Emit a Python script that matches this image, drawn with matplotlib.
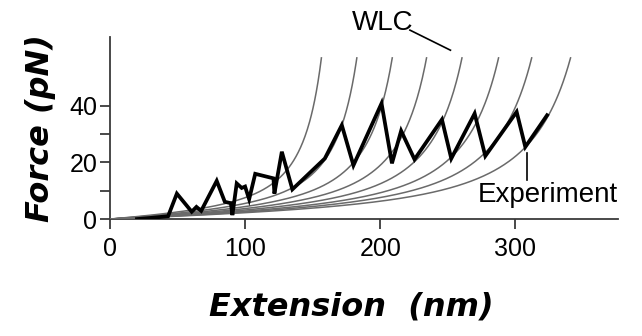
import numpy as np
import matplotlib.pyplot as plt

plt.rcParams['font.family'] = ['Liberation Sans', 'DejaVu Sans']

# === DATA ===
# experimental force-extension trace (nm, pN), read off the picture
ext_nm = [20, 30, 43, 49.5, 60.5, 64, 67.5, 79, 85, 89.5, 90.6, 93.8, 97.5, 100,
          103, 107.5, 121, 121.7, 127.2, 135, 159, 171.6, 180.2, 201, 208.7,
          215.5, 225.4, 245.7, 252.6, 269.9, 277.8, 301, 307.4, 323.5]
force_pN = [0, 0.4, 1, 9, 2.6, 4.3, 2.9, 13.5, 6.1, 5.6, 1.4, 12.6, 11, 11.5,
            7, 16, 14.4, 9, 23.8, 10.5, 21.4, 33.2, 19, 40.9, 19.7,
            31.2, 21.1, 35.2, 21.4, 37.3, 22.3, 37.9, 25.5, 36.7]

# worm-like chain fits: contour lengths (nm) and persistence length (nm)
wlc_contour = [185, 216, 247, 277, 308, 340, 369, 403]
persistence = 0.8
kT = 4.1          # pN nm
f_max = 57.5      # curves are cut here

x_ticks = [0, 100, 200, 300]
y_ticks = [0, 20, 40]
y_minor = [10, 30]


def wlc_force(x, L):
    r = x / L
    return kT / persistence * (0.25 / (1 - r) ** 2 - 0.25 + r)


fig = plt.figure(figsize=(6.42, 3.36), dpi=100)
ax = fig.add_axes([0.1713, 0.348, 0.7913, 0.543])

for L in wlc_contour:
    xs = np.linspace(0, 0.9 * L, 400)
    fs = wlc_force(xs, L)
    keep = fs <= f_max
    ax.plot(xs[keep], fs[keep], color='#6a6a6a', lw=1.1, zorder=2)

ax.plot(ext_nm, force_pN, color='black', lw=2.7, solid_joinstyle='miter', zorder=3)

ax.set_xlim(0, 376)
ax.set_ylim(0, 64.5)
for s in ['top', 'right']:
    ax.spines[s].set_visible(False)
for s in ['left', 'bottom']:
    ax.spines[s].set_color('#3a3a3a')
    ax.spines[s].set_linewidth(1.3)
    ax.spines[s].set_zorder(1)

ax.set_xticks(x_ticks)
ax.set_yticks(y_ticks)
ax.set_yticks(y_minor, minor=True)
ax.tick_params(axis='both', which='both', direction='out', length=7, width=1.3,
               color='#3a3a3a', labelsize=18, pad=2)
ax.tick_params(axis='x', pad=6)

label_font = dict(family='DejaVu Sans', fontsize=23, fontweight='bold', style='italic')
ax.set_xlabel('Extension  (nm)', labelpad=22, **label_font)
ax.xaxis.label.set_x(0.476)
ax.set_ylabel('Force (pN)', labelpad=10, **label_font)

# annotations
ax.text(201.5, 69.3, 'WLC', fontsize=20, ha='center', va='center', clip_on=False)
ax.plot([222, 252], [66.8, 59.7], color='black', lw=1.2, clip_on=False)
ax.text(272, 8.5, 'Experiment', fontsize=20, ha='left', va='center', clip_on=False)
ax.plot([309, 309], [23.3, 13.8], color='black', lw=1.2, clip_on=False)

fig.savefig('out.png', dpi=100)
